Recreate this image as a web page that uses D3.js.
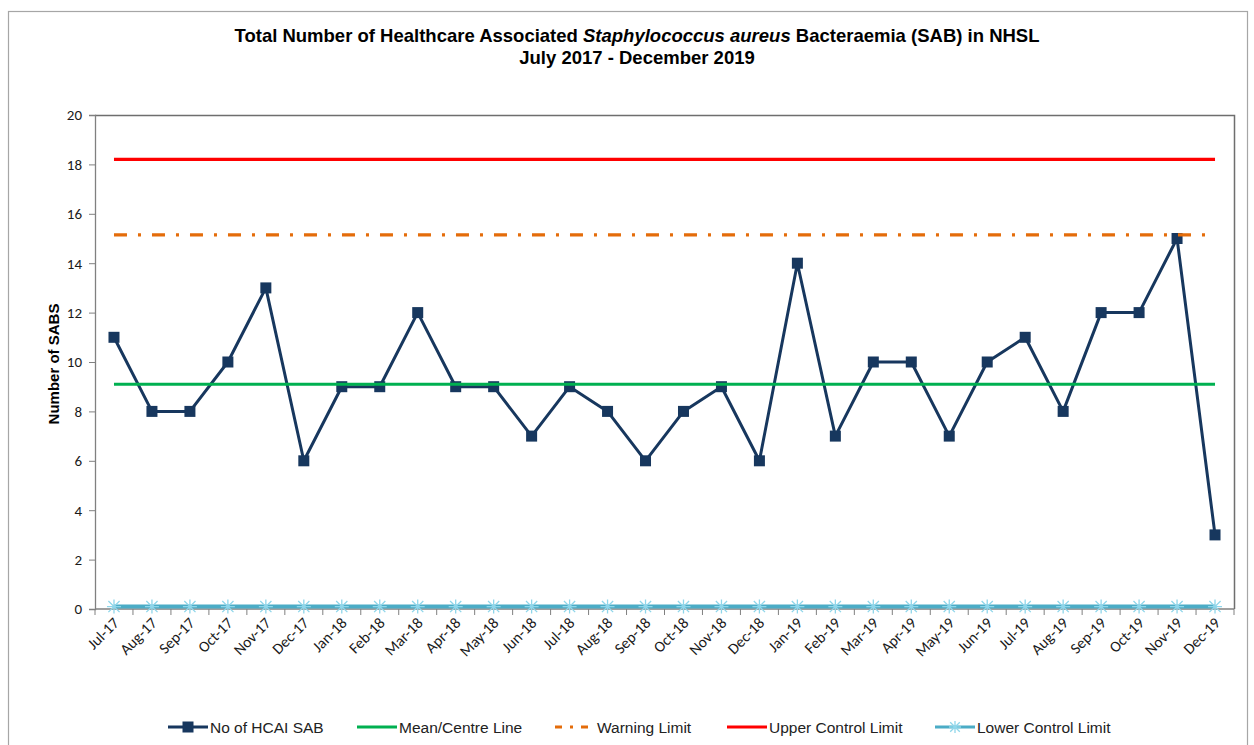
<!DOCTYPE html>
<html>
<head>
<meta charset="utf-8">
<script src="https://cdn.jsdelivr.net/npm/d3@7"></script>
<style>
  body { margin: 0; background: #fff; }
  svg { display: block; }
</style>
</head>
<body>
<div id="chart"></div>
<script>
// --- DATA ---
const months = ["Jul-17","Aug-17","Sep-17","Oct-17","Nov-17","Dec-17","Jan-18","Feb-18","Mar-18","Apr-18","May-18","Jun-18",
  "Jul-18","Aug-18","Sep-18","Oct-18","Nov-18","Dec-18","Jan-19","Feb-19","Mar-19","Apr-19","May-19","Jun-19",
  "Jul-19","Aug-19","Sep-19","Oct-19","Nov-19","Dec-19"];
const sabCounts = [11,8,8,10,13,6,9,9,12,9,9,7,9,8,6,8,9,6,14,7,10,10,7,10,11,8,12,12,15,3];
const meanLine = 9.1;
const warningLimit = 15.15;
const upperControlLimit = 18.2;
const lowerControlLimit = 0.1;
const yTicks = [0,2,4,6,8,10,12,14,16,18,20];

const W = 1254, H = 745;
const plot = { left: 95, right: 1234, top: 115, bottom: 609 };
const narrow = "'Liberation Sans Narrow','Arial Narrow',Arial,sans-serif";
const calibri = "Carlito,Lato,'Open Sans',sans-serif";

const svg = d3.select("#chart").append("svg")
  .attr("width", W).attr("height", H);

// outer chart frame
svg.append("rect")
  .attr("x", 8.5).attr("y", 11.5).attr("width", 1239).attr("height", 760)
  .attr("fill", "#fff").attr("stroke", "#a6a6a6").attr("stroke-width", 1.2);

// --- SCALES ---
const x = d3.scaleBand().domain(months).range([plot.left, plot.right]).padding(0);
const cx = d => x(d) + x.bandwidth() / 2;
const y = d3.scaleLinear().domain([0, 20]).range([plot.bottom, plot.top]);

// plot box (top & right)
svg.append("path")
  .attr("d", `M${plot.left},${plot.top + 0.5}H${plot.right + 0.5}V${plot.bottom}`)
  .attr("fill", "none").attr("stroke", "#6e6e6e").attr("stroke-width", 1.5);

// y axis
const yAxis = svg.append("g")
  .attr("transform", `translate(${plot.left},0)`)
  .call(d3.axisLeft(y).tickValues(yTicks).tickSize(6).tickPadding(7).tickFormat(d3.format("d")));
yAxis.select(".domain").attr("stroke", "#808080").attr("stroke-width", 1.3);
yAxis.selectAll(".tick line").attr("stroke", "#808080");
yAxis.selectAll("text").style("font-family", calibri).style("font-size", "15px").attr("fill", "#1a1a1a");

// x axis: ticks on category boundaries
const xg = svg.append("g");
xg.append("line")
  .attr("x1", plot.left).attr("x2", plot.right)
  .attr("y1", plot.bottom).attr("y2", plot.bottom)
  .attr("stroke", "#808080").attr("stroke-width", 1.3);
xg.selectAll("line.tk")
  .data(months.concat(["end"]))
  .join("line").attr("class", "tk")
  .attr("x1", (d, i) => plot.left + i * x.bandwidth())
  .attr("x2", (d, i) => plot.left + i * x.bandwidth())
  .attr("y1", plot.bottom).attr("y2", plot.bottom + 6)
  .attr("stroke", "#808080");
xg.selectAll("text")
  .data(months)
  .join("text")
  .attr("transform", d => `translate(${cx(d) + 6},${plot.bottom + 15}) rotate(-45)`)
  .attr("text-anchor", "end")
  .style("font-family", calibri).style("font-size", "15.5px").attr("fill", "#1a1a1a")
  .text(d => d);

// y title
svg.append("text")
  .attr("transform", `translate(59,${(plot.top + plot.bottom) / 2 + 2}) rotate(-90)`)
  .attr("text-anchor", "middle")
  .attr("font-family", "'Liberation Sans',Arial,sans-serif").attr("font-size", 15)
  .attr("font-weight", "bold").attr("fill", "#000")
  .text("Number of SABS");

// title
const title = svg.append("text")
  .attr("x", 637).attr("y", 42)
  .attr("text-anchor", "middle")
  .attr("font-family", narrow).attr("font-weight", "bold").attr("font-size", 18.5).attr("fill", "#000");
title.append("tspan").text("Total Number of Healthcare Associated ");
title.append("tspan").attr("font-style", "italic").text("Staphylococcus  aureus");
title.append("tspan").text(" Bacteraemia (SAB) in NHSL");
svg.append("text")
  .attr("x", 637).attr("y", 64)
  .attr("text-anchor", "middle")
  .attr("font-family", narrow).attr("font-weight", "bold").attr("font-size", 18.5).attr("fill", "#000")
  .text("July 2017 - December 2019");

// --- SERIES ---
const navy = "#17375e", green = "#00b050", orange = "#e46c0a", red = "#ff0000", cyan = "#4bacc6", star = "#8fd6ea";

const line = d3.line().x((d, i) => cx(months[i])).y(d => y(d));
svg.append("path").datum(sabCounts)
  .attr("d", line).attr("fill", "none")
  .attr("stroke", navy).attr("stroke-width", 3).attr("stroke-linejoin", "round");
svg.selectAll("rect.pt").data(sabCounts).join("rect").attr("class", "pt")
  .attr("x", (d, i) => cx(months[i]) - 5.5).attr("y", d => y(d) - 5.5)
  .attr("width", 11).attr("height", 11).attr("fill", navy);

const x0 = cx(months[0]), x1 = cx(months[months.length - 1]);
function hline(v, color, width, dash) {
  svg.append("line")
    .attr("x1", x0).attr("x2", x1).attr("y1", y(v)).attr("y2", y(v))
    .attr("stroke", color).attr("stroke-width", width)
    .attr("stroke-dasharray", dash || null);
}
hline(meanLine, green, 3.2);
hline(warningLimit, orange, 3.2, "13,11,3,11");
hline(upperControlLimit, red, 3.2);
hline(lowerControlLimit, cyan, 4);

function asterisk(g, px, py, r, color) {
  const p = d3.path();
  p.moveTo(px - r, py); p.lineTo(px + r, py);
  p.moveTo(px - r * 0.8, py - r * 0.8); p.lineTo(px + r * 0.8, py + r * 0.8);
  p.moveTo(px - r * 0.8, py + r * 0.8); p.lineTo(px + r * 0.8, py - r * 0.8);
  p.moveTo(px, py - r); p.lineTo(px, py + r);
  g.append("path").attr("d", p.toString()).attr("stroke", color).attr("stroke-width", 1.3).attr("fill", "none");
}
const lclMarks = svg.append("g");
months.forEach(m => asterisk(lclMarks, cx(m), y(lowerControlLimit), 7, star));

// --- LEGEND ---
const legendItems = [
  { label: "No of HCAI SAB", x: 168, color: navy, type: "square" },
  { label: "Mean/Centre Line", x: 357, color: green },
  { label: "Warning Limit", x: 555, color: orange, dash: "7,8,3,8" },
  { label: "Upper Control Limit", x: 727, color: red },
  { label: "Lower Control Limit", x: 935, color: cyan, type: "star" }
];
const ly = 727;
const lg = svg.append("g");
legendItems.forEach(it => {
  lg.append("line")
    .attr("x1", it.x).attr("x2", it.x + 40).attr("y1", ly).attr("y2", ly)
    .attr("stroke", it.color).attr("stroke-width", 3.2)
    .attr("stroke-dasharray", it.dash || null);
  if (it.type === "square") {
    lg.append("rect").attr("x", it.x + 14.5).attr("y", ly - 5.5).attr("width", 11).attr("height", 11).attr("fill", it.color);
  }
  if (it.type === "star") asterisk(lg, it.x + 20, ly, 6, star);
  lg.append("text")
    .attr("x", it.x + 42).attr("y", ly + 5.5)
    .attr("font-family", narrow).attr("font-size", 15.5).attr("fill", "#222")
    .text(it.label);
});
</script>
</body>
</html>
